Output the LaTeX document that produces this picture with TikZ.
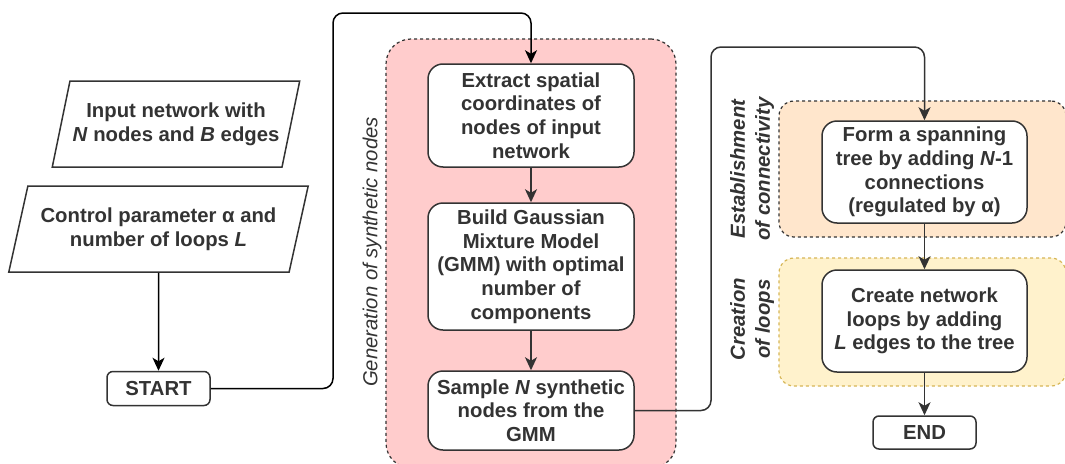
\documentclass[tikz,border=0pt]{standalone}
\usepackage{fontspec}
\setmainfont{Liberation Sans}
\usetikzlibrary{shapes.geometric,arrows.meta}
\definecolor{ink}{HTML}{333333}
\definecolor{genfill}{HTML}{FFCCCC}
\definecolor{confill}{HTML}{FFE6CC}
\definecolor{loopfill}{HTML}{FFF2CC}
\definecolor{loopline}{HTML}{D6B656}
\begin{document}
\begin{tikzpicture}
    [
    x=1pt, y=-1pt,
    every node/.style={text=ink, font=\fontsize{20.3}{23.7}\selectfont\bfseries},
    step box/.style={rectangle,rounded corners=15pt,draw=ink,line width=1.5pt,fill=white,inner sep=0pt,minimum width=206pt,align=center},
    term box/.style={rectangle,rounded corners=6pt,draw=ink,line width=1.5pt,fill=white,inner sep=0pt,minimum width=103pt,minimum height=34pt},
    data box/.style={trapezium,trapezium left angle=68,trapezium right angle=112,trapezium stretches=true,draw=ink,line width=1.5pt,inner sep=0pt,minimum height=86pt,align=center},
    stage/.style={rectangle,draw=ink,dashed,line width=1.2pt,inner sep=0pt},
    stage label/.style={rotate=90,align=center,font=\fontsize{20.3}{25}\selectfont\bfseries\itshape},
    arr/.style={-{Stealth[length=13pt,width=12pt,inset=3.5pt]},line width=1.5pt,draw=ink},
    link/.style={arr,rounded corners=10pt}
    ]
    \useasboundingbox (0,0) rectangle (1065,463);
    \node (genstage) at (531,253.5) [stage, fill=genfill, rounded corners=25pt, minimum width=290pt, minimum height=429pt] {};
    \node (constage) at (922.5,169) [stage, fill=confill, rounded corners=15pt, minimum width=287pt, minimum height=136pt] {};
    \node (loopstage) at (922.5,322) [stage, fill=loopfill, draw=loopline, rounded corners=15pt, minimum width=287pt, minimum height=128pt] {};
    \node (genlabel) at (372,252) [stage label, font=\fontsize{20.3}{25}\selectfont\itshape\mdseries] {Generation of synthetic nodes};
    \node (conlabel) at (752,169) [stage label] {Establishment\\of connectivity};
    \node (looplabel) at (752,319) [stage label] {Creation\\of loops};
    \node (input) at (176,124) [data box, minimum width=248pt] {Input network with\\\textit{N} nodes and \textit{B} edges};
    \node (param) at (158.5,229) [data box, minimum width=300pt] {Control parameter α and\\number of loops \textit{L}};
    \node (start) at (158.5,388.5) [term box] {START};
    \node (extract) at (531,115.5) [step box, minimum height=103pt] {Extract spatial\\coordinates of\\nodes of input\\network};
    \node (build) at (531,266.5) [step box, minimum height=127pt] {Build Gaussian\\Mixture Model\\(GMM) with optimal\\number of\\components};
    \node (sample) at (531,410.5) [step box, minimum height=79pt] {Sample \textit{N} synthetic\\nodes from the\\GMM};
    \node (form) at (924.5,172) [step box, minimum width=205pt, minimum height=102pt] {Form a spanning\\tree by adding \textit{N}-1\\connections\\(regulated by α)};
    \node (create) at (924.5,321) [step box, minimum width=205pt, minimum height=102pt] {Create network\\loops by adding\\\textit{L} edges to the tree};
    \node (end) at (924.5,432.5) [term box, minimum height=33pt] {END};
    \coordinate (up1) at (333,13);
    \coordinate (up2) at (711,47);
    \draw [arr, draw=black] (param) to (start);
    \draw [link, draw=black] (start.east) -| (up1) -| (extract.north);
    \draw [arr] (extract) to (build);
    \draw [arr] (build) to (sample);
    \draw [link] (sample.east) -| (up2) -| (form.north);
    \draw [arr] (form) to (create);
    \draw [arr] (create) to (end);
\end{tikzpicture}
\end{document}
